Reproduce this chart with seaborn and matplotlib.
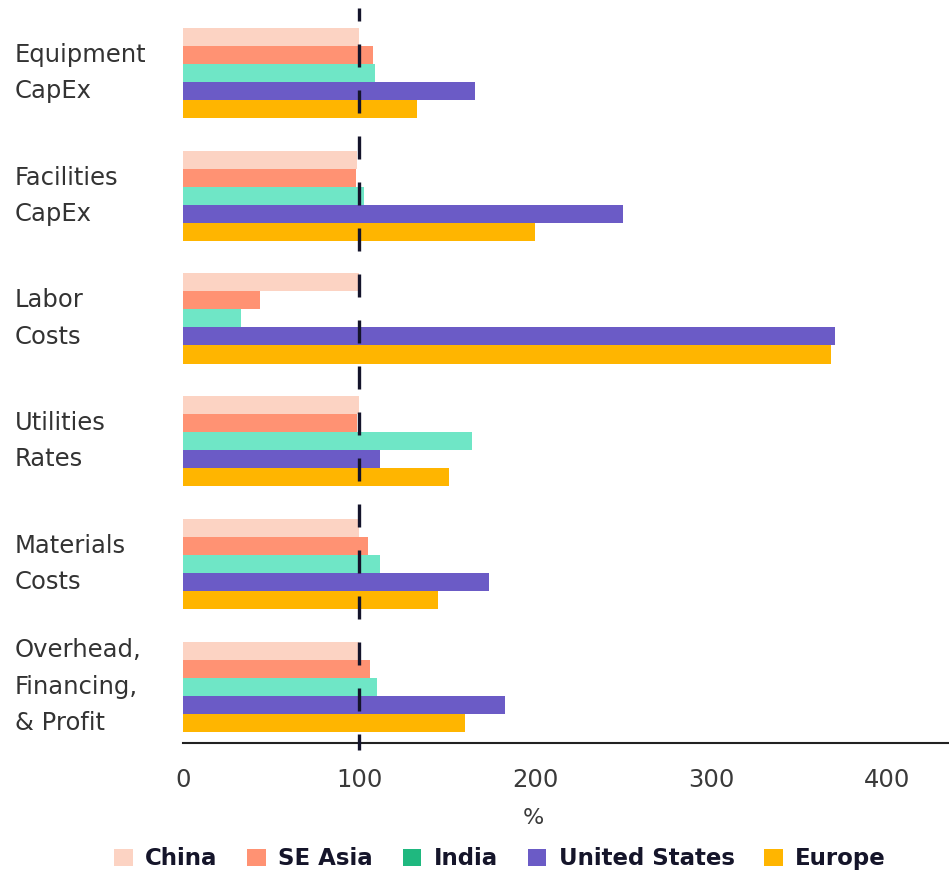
import numpy as np
import pandas as pd
import matplotlib
matplotlib.use("Agg")
import matplotlib.pyplot as plt
import seaborn as sns

categories = ["Equipment\nCapEx", "Facilities\nCapEx", "Labor\nCosts",
              "Utilities\nRates", "Materials\nCosts", "Overhead,\nFinancing,\n& Profit"]
regions = ["China", "SE Asia", "India", "United States", "Europe"]

china = [100, 99, 100, 100, 100, 100]
se_asia = [108, 98, 44, 99, 105, 106]
india = [109, 103, 33, 164, 112, 110]
united_states = [166, 250, 370, 112, 174, 183]
europe = [133, 200, 368, 151, 145, 160]

colors = ["#fcd3c3", "#ff9273", "#6fe6c6", "#6b5bc6", "#ffb500"]
legend_colors = ["#fcd3c3", "#ff9273", "#1fb87f", "#6b5bc6", "#ffb500"]

series = [china, se_asia, india, united_states, europe]
rows = []
for reg, vals in zip(regions, series):
    for cat, v in zip(categories, vals):
        rows.append({"category": cat, "region": reg, "value": v})
df = pd.DataFrame(rows)

sns.set_style("white")
plt.rcParams['font.family'] = ['DejaVu Sans']

fig = plt.figure(figsize=(9.49, 8.72), dpi=100)
ax = fig.add_axes([0.1928, 0.1479, 0.8072, 0.8429])

sns.barplot(data=df, y="category", x="value", hue="region", orient="h",
            palette=colors, saturation=1, width=0.734, gap=0, linewidth=0, ax=ax)

handles, labels = ax.get_legend_handles_labels()
ax.get_legend().remove()

ax.set_xlim(0, 435)
ax.set_ylim(5.46, -0.53)
ax.set_xticks([0, 100, 200, 300, 400])

for s in ["top", "right", "left"]:
    ax.spines[s].set_visible(False)
ax.spines["bottom"].set_color("#222222")
ax.spines["bottom"].set_linewidth(1.5)

ax.axvline(100, ymin=-0.0095, ymax=1, color="#14142b", lw=2.4,
           linestyle=(2.1, (6.9, 6.9)), clip_on=False, zorder=5)

ax.tick_params(axis="x", length=0, pad=18, labelsize=17.5, labelcolor="#3a3a3a")
ax.tick_params(axis="y", length=0, pad=121, labelsize=17.5, labelcolor="#333333")
for lab in ax.get_yticklabels():
    lab.set_horizontalalignment("left")
    lab.set_verticalalignment("center")
    lab.set_linespacing(1.65)

ax.set_ylabel("")
ax.set_xlabel("%", fontsize=16, color="#3a3a3a")
ax.xaxis.set_label_coords(0.457, -0.088)
ax.xaxis.label.set_verticalalignment("top")

leg = fig.legend(handles, labels, loc="center", bbox_to_anchor=(0.527, 0.015),
                 ncol=5, frameon=False, handlelength=0.8, handleheight=0.8,
                 handletextpad=0.55, columnspacing=1.3,
                 prop={"size": 16.5, "weight": "bold"})
for h, c in zip(leg.legend_handles, legend_colors):
    h.set_facecolor(c)
    h.set_edgecolor(c)
for t in leg.get_texts():
    t.set_color("#15152a")

fig.savefig("out.png", dpi=100)
